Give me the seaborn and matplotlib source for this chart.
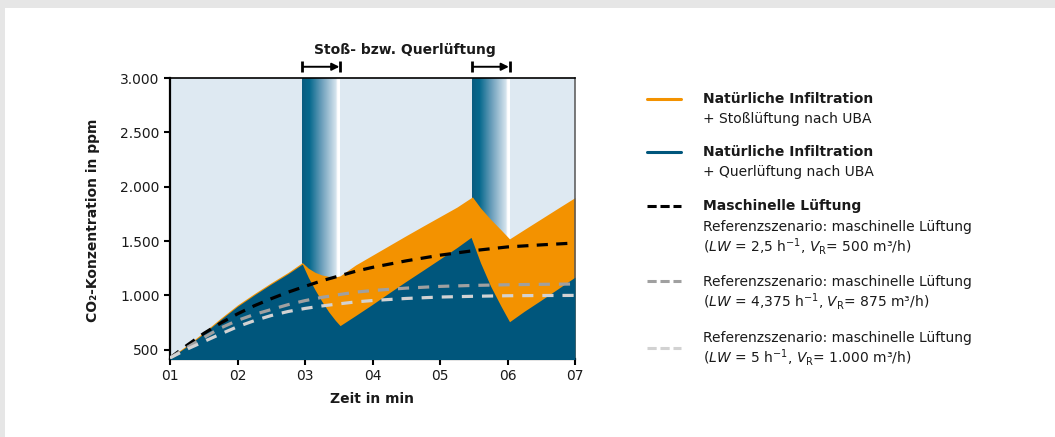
import numpy as np
import pandas as pd
import matplotlib
matplotlib.use("Agg")
import matplotlib.pyplot as plt
import seaborn as sns
from matplotlib.colors import LinearSegmentedColormap
from matplotlib.lines import Line2D
from matplotlib.patches import Rectangle

# ---------------- data ----------------
x_stoss = [1.0, 1.25, 1.5, 1.75, 2.0, 2.25, 2.5, 2.75, 2.96, 3.05, 3.15, 3.25, 3.35, 3.45, 3.52,
           3.75, 4.0, 4.25, 4.5, 4.75, 5.0, 5.25, 5.48, 5.6, 5.75, 5.9, 6.03, 6.25, 6.5, 6.75, 7.0]
y_stoss = [430, 540, 662, 790, 912, 1017, 1117, 1212, 1302, 1250, 1212, 1188, 1175, 1170, 1180,
           1280, 1370, 1460, 1550, 1638, 1725, 1812, 1906, 1805, 1700, 1605, 1520, 1607, 1705, 1803, 1900]

x_quer = [1.0, 1.25, 1.5, 1.75, 2.0, 2.25, 2.5, 2.75, 2.96, 3.05, 3.15, 3.25, 3.35, 3.45, 3.52,
          3.75, 4.0, 4.25, 4.5, 4.75, 5.0, 5.25, 5.46, 5.6, 5.75, 5.9, 6.03, 6.25, 6.5, 6.75, 7.0]
y_quer = [425, 530, 650, 778, 900, 1005, 1105, 1200, 1288, 1165, 1050, 945, 850, 770, 722,
          815, 918, 1025, 1130, 1232, 1335, 1440, 1534, 1300, 1085, 905, 758, 855, 957, 1062, 1168]

x_mech = [1.0, 1.25, 1.5, 1.75, 2.0, 2.25, 2.5, 2.75, 3.0, 3.25, 3.5, 3.75, 4.0, 4.5, 5.0, 5.5, 6.0, 6.5, 7.0]
y_mech_500 = [425, 540, 650, 745, 830, 905, 970, 1030, 1083, 1135, 1178, 1222, 1258, 1318, 1370, 1412, 1446, 1465, 1482]
y_mech_875 = [425, 520, 612, 700, 770, 825, 870, 915, 952, 982, 1007, 1030, 1045, 1067, 1083, 1092, 1098, 1102, 1105]
y_mech_1000 = [425, 505, 575, 645, 712, 768, 815, 852, 880, 903, 922, 940, 953, 972, 985, 992, 997, 999, 1000]

vent_windows = [(2.96, 3.52), (5.48, 6.03)]

x_ticks = [1, 2, 3, 4, 5, 6, 7]
x_tick_labels = ["01", "02", "03", "04", "05", "06", "07"]
y_ticks = [500, 1000, 1500, 2000, 2500, 3000]
y_tick_labels = ["500", "1.000", "1.500", "2.000", "2.500", "3.000"]
y_min, y_max = 415, 3000

# ---------------- style ----------------
ORANGE = "#f39200"
BLUE = "#00567c"
BG = "#dee9f2"
GRAY = "#a0a0a0"
LGRAY = "#d2d2d2"

sns.set_theme(style="white")
plt.rcParams["font.family"] = ["DejaVu Sans"]
plt.rcParams["mathtext.fontset"] = "dejavusans"

fig = plt.figure(figsize=(10.55, 4.37), dpi=100)
fig.patch.set_facecolor("#e6e6e6")
fig.add_artist(Rectangle((5 / 1055, 0), 1, (437 - 8) / 437, transform=fig.transFigure,
                         facecolor="white", edgecolor="none", zorder=-10))

ax = fig.add_axes([170 / 1055, 1 - 359 / 437, 405 / 1055, 281 / 437])
ax.set_facecolor(BG)

# ventilation gradient bands
cmap = LinearSegmentedColormap.from_list(
    "vent", [(0.0, "#0a5c80"), (0.2, "#076a8e"), (0.52, "#6c9fbb"),
             (0.9, "#d6e4ee"), (0.935, "#ffffff"), (1.0, "#ffffff")])
grad = np.linspace(0, 1, 512).reshape(1, -1)
for (a, b) in vent_windows:
    ax.imshow(grad, cmap=cmap, extent=(a, b, y_min, y_max), aspect="auto",
              interpolation="bilinear", zorder=1)

# areas
ax.fill_between(x_stoss, 0, y_stoss, color=ORANGE, lw=0, zorder=2)
ax.fill_between(x_quer, 0, y_quer, color=BLUE, lw=0, zorder=3)

# mechanical ventilation lines via seaborn
df = pd.DataFrame({
    "t": x_mech * 3,
    "ppm": y_mech_500 + y_mech_875 + y_mech_1000,
    "szenario": ["500"] * len(x_mech) + ["875"] * len(x_mech) + ["1000"] * len(x_mech),
})
sns.lineplot(data=df, x="t", y="ppm", hue="szenario", style="szenario",
             palette={"500": "black", "875": GRAY, "1000": LGRAY},
             dashes={"500": (3.5, 2.6), "875": (3.5, 2.8), "1000": (3.5, 2.8)},
             linewidth=2.3, legend=False, ax=ax, zorder=4)

ax.set_xlim(1, 7)
ax.set_ylim(y_min, y_max)
ax.set_xticks(x_ticks)
ax.set_xticklabels(x_tick_labels)
ax.set_yticks(y_ticks)
ax.set_yticklabels(y_tick_labels)
ax.tick_params(axis="both", which="major", direction="out", length=4.5, width=1.5,
               color="black", labelsize=10, labelcolor="#1a1a1a", pad=3,
               bottom=True, left=True)

for side in ["left", "bottom"]:
    ax.spines[side].set_color("black")
    ax.spines[side].set_linewidth(1.6)
ax.spines["top"].set_color("black")
ax.spines["top"].set_linewidth(1.2)
ax.spines["right"].set_color("#555555")
ax.spines["right"].set_linewidth(1.1)

ax.set_xlabel("Zeit in min", fontsize=10, fontweight="bold", labelpad=6, color="#1a1a1a")
ax.set_ylabel("CO₂-Konzentration in ppm", fontsize=10, fontweight="bold", color="#1a1a1a")
ax.yaxis.set_label_coords(-0.172, 0.495)

# brackets with arrows above the ventilation windows
xt = ax.get_xaxis_transform()
for (a, b) in vent_windows:
    for xv in (a, b):
        ax.plot([xv, xv], [1.021, 1.059], transform=xt, color="black", lw=2.0,
                clip_on=False, solid_capstyle="butt")
    ax.annotate("", xy=(b - 0.01, 1.040), xytext=(a + 0.01, 1.040), xycoords=xt, textcoords=xt,
                arrowprops=dict(arrowstyle="-|>", lw=1.4, color="black",
                                shrinkA=0, shrinkB=0, mutation_scale=11))

fig.text(405 / 1055, 1 - 54 / 437, "Stoß- bzw. Querlüftung", ha="center", va="baseline",
         fontsize=10, fontweight="bold", color="#1a1a1a")

# ---------------- legend (manual) ----------------
def fy(px):
    return 1 - px / 437

hx0, hx1 = 647 / 1055, 681 / 1055
tx = 703 / 1055
handles = [
    (98.5, ORANGE, "-"),
    (152.0, BLUE, "-"),
    (206.0, "black", "--"),
    (281.0, GRAY, "--"),
    (348.0, LGRAY, "--"),
]
for ypx, col, ls in handles:
    ln = Line2D([hx0, hx1], [fy(ypx), fy(ypx)], transform=fig.transFigure, color=col, lw=2.2)
    if ls == "--":
        ln.set_dashes([3.0, 1.25])
    fig.add_artist(ln)

legend_lines = [
    (102.7, "Natürliche Infiltration", "bold"),
    (122.7, "+ Stoßlüftung nach UBA", "normal"),
    (156.0, "Natürliche Infiltration", "bold"),
    (176.0, "+ Querlüftung nach UBA", "normal"),
    (210.0, "Maschinelle Lüftung", "bold"),
    (230.7, "Referenzszenario: maschinelle Lüftung", "normal"),
    (251.7, r"($\mathit{LW}$ = 2,5 h$^{-1}$, $\mathit{V}_{\mathrm{R}}$= 500 m³/h)", "normal"),
    (285.7, "Referenzszenario: maschinelle Lüftung", "normal"),
    (306.7, r"($\mathit{LW}$ = 4,375 h$^{-1}$, $\mathit{V}_{\mathrm{R}}$= 875 m³/h)", "normal"),
    (341.7, "Referenzszenario: maschinelle Lüftung", "normal"),
    (362.7, r"($\mathit{LW}$ = 5 h$^{-1}$, $\mathit{V}_{\mathrm{R}}$= 1.000 m³/h)", "normal"),
]
for ypx, txt, wt in legend_lines:
    fig.text(tx, fy(ypx), txt, ha="left", va="baseline", fontsize=10, fontweight=wt,
             color="#1a1a1a")

fig.savefig("out.png", dpi=100, facecolor=fig.get_facecolor())
